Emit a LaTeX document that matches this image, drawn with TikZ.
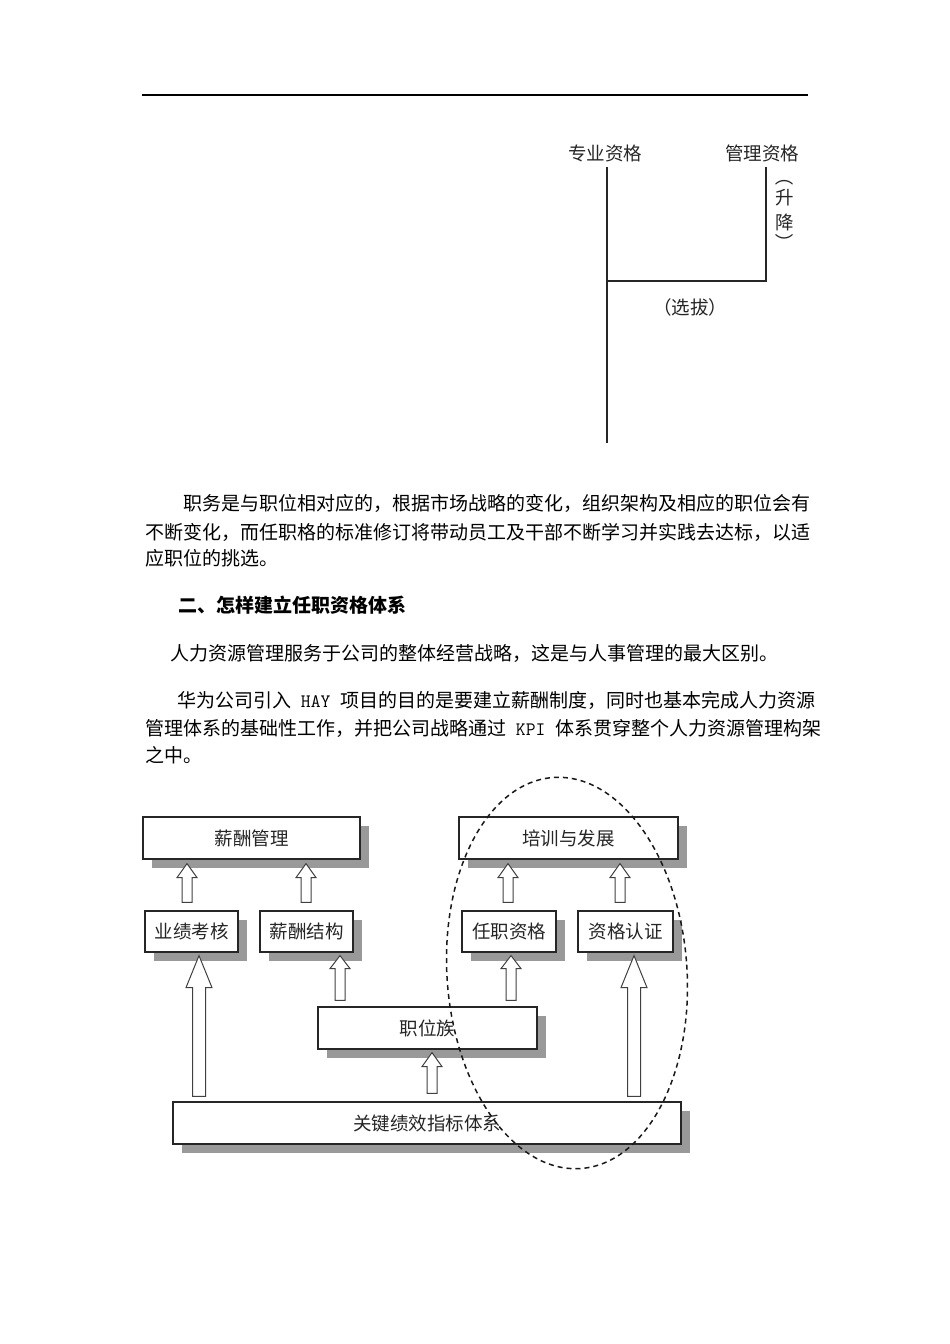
\documentclass[tikz,border=0pt]{standalone}
\usepackage{fontspec}
\setmainfont{Noto Sans CJK SC}
\usetikzlibrary{calc}
\tikzset{
  txt/.style={anchor=west, inner sep=0pt, font=\fontsize{19}{19}\selectfont, text height=16.7pt, text depth=2.3pt},
  box/.style={draw=black!85, line width=1.2pt, fill=white, inner sep=0pt, text=black!85, font=\fontsize{18.5}{18.5}\selectfont},
  shadowbox/.style={fill=black!40, draw=none},
  blockarrow/.style={draw=black!75, line width=1pt, fill=white},
  thinline/.style={draw=black!85, line width=1.2pt},
  lbl/.style={inner sep=0pt, text=black!85, font=\fontsize{18.5}{18.5}\selectfont},
  ovaldash/.style={draw=black!90, line width=1.5pt, dash pattern=on 5pt off 4pt},
}
\newcommand{\blk}[5]{\draw[blockarrow] let \p1=(#1), \p2=(#2) in
  (\x1-#3,\y1) -- (\x1-#3,\y2-#5) -- (\x1-#4,\y2-#5) -- (\x1,\y2) -- (\x1+#4,\y2-#5) -- (\x1+#3,\y2-#5) -- (\x1+#3,\y1) -- cycle;}
\newcommand{\shbox}[7]{% name, x1,y1,x2,y2, text
  \fill[shadowbox] (#2+9,#3+9) rectangle (#4+9,#5+9);
  \node[box, minimum width={(#4-#2)*1pt}, minimum height={(#5-#3)*1pt}] (#1) at ({(#2+#4)/2},{(#3+#5)/2}) {#6};}
\newcommand{\latinpart}[1]{{\ttfamily\fontsize{19}{19}\selectfont\ #1\ }}
\begin{document}
\begin{tikzpicture}[x=1pt,y=-1pt]
\useasboundingbox (0,0) rectangle (950,1344);
\fill[white] (0,0) rectangle (950,1344);
% header rule
\coordinate (hl) at (142,95);
\coordinate (hr) at (808,95);
\draw[black, line width=1.6pt] (hl) -- (hr);

% top diagram
\node[lbl] (zy) at (605,153) {专业资格};
\node[lbl] (gl) at (762,153) {管理资格};
\node[lbl] (xb) at (690,307) {（选拔）};
\node[lbl] (sheng) at (785,198) {升};
\node[lbl] (jiang) at (785,222) {降};
\node[lbl, rotate=-90] (pl) at (785,177) {（};
\node[lbl, rotate=-90] (pr) at (785,243) {）};
\coordinate (la) at (607,167);
\coordinate (lb) at (607,443);
\coordinate (lc) at (607,281);
\coordinate (ld) at (766,281);
\coordinate (le) at (766,167);
\draw[thinline] (la) -- (lb);
\draw[thinline] (lc) -- (ld) -- (le);

% paragraphs
\node[txt] (p1) at (183,503) {职务是与职位相对应的，根据市场战略的变化，组织架构及相应的职位会有};
\node[txt] (p2) at (145,532) {不断变化，而任职格的标准修订将带动员工及干部不断学习并实践去达标，以适};
\node[txt] (p3) at (145,558) {应职位的挑选。};
\node[txt, font=\fontsize{19}{19}\selectfont\bfseries] (h1) at (178,605) {二、怎样建立任职资格体系};
\node[txt] (p4) at (170,653) {人力资源管理服务于公司的整体经营战略，这是与人事管理的最大区别。};
\node[txt] (p5) at (177,700) {华为公司引入\latinpart{HAY}项目的目的是要建立薪酬制度，同时也基本完成人力资源};
\node[txt] (p6) at (145,728) {管理体系的基础性工作，并把公司战略通过\latinpart{KPI}体系贯穿整个人力资源管理构架};
\node[txt] (p7) at (145,755) {之中。};

% bottom diagram boxes
\shbox{xc}{143}{817}{360}{859}{薪酬管理}{}
\shbox{px}{459}{817}{678}{859}{培训与发展}{}
\shbox{yj}{145}{911}{238}{952}{业绩考核}{}
\shbox{xj}{260}{911}{353}{952}{薪酬结构}{}
\shbox{rz}{462}{911}{556}{952}{任职资格}{}
\shbox{zg}{578}{911}{673}{952}{资格认证}{}
\shbox{zw}{318}{1007}{537}{1049}{职位族}{}
\shbox{gj}{173}{1102}{681}{1144}{关键绩效指标体系}{}

% arrow end points
\coordinate (a1t) at ($(xc.south -| 187,0)+(0,4)$);
\coordinate (a1b) at ($(yj.north -| 187,0)+(0,-8)$);
\coordinate (a2t) at ($(xc.south -| 306,0)+(0,4)$);
\coordinate (a2b) at ($(xj.north -| 306,0)+(0,-8)$);
\coordinate (a3t) at ($(px.south -| 508,0)+(0,4)$);
\coordinate (a3b) at ($(rz.north -| 508,0)+(0,-8)$);
\coordinate (a4t) at ($(px.south -| 620,0)+(0,4)$);
\coordinate (a4b) at ($(zg.north -| 620,0)+(0,-8)$);
\coordinate (a5t) at ($(xj.south -| 340,0)+(0,3)$);
\coordinate (a5b) at ($(zw.north -| 340,0)+(0,-6)$);
\coordinate (a6t) at ($(rz.south -| 511,0)+(0,3)$);
\coordinate (a6b) at ($(zw.north -| 511,0)+(0,-6)$);
\coordinate (a7t) at ($(zw.south -| 432,0)+(0,3)$);
\coordinate (a7b) at ($(gj.north -| 432,0)+(0,-8)$);
\coordinate (a8t) at ($(yj.south -| 199,0)+(0,3)$);
\coordinate (a8b) at ($(gj.north -| 199,0)+(0,-5)$);
\coordinate (a9t) at ($(zg.south -| 634,0)+(0,3)$);
\coordinate (a9b) at ($(gj.north -| 634,0)+(0,-5)$);

\blk{a1b}{a1t}{5pt}{10pt}{14pt}
\blk{a2b}{a2t}{5pt}{10pt}{14pt}
\blk{a3b}{a3t}{5pt}{10pt}{14pt}
\blk{a4b}{a4t}{5pt}{10pt}{14pt}
\blk{a5b}{a5t}{5pt}{10pt}{13pt}
\blk{a6b}{a6t}{5pt}{10pt}{13pt}
\blk{a7b}{a7t}{5pt}{10pt}{14pt}
\blk{a8b}{a8t}{6.5pt}{13pt}{32pt}
\blk{a9b}{a9t}{6.5pt}{13pt}{32pt}

% dashed oval
\coordinate (oc) at (567,973);
\draw[ovaldash, rotate around={4:(oc)}] (oc) ellipse [x radius=120, y radius=196];
\end{tikzpicture}
\end{document}
